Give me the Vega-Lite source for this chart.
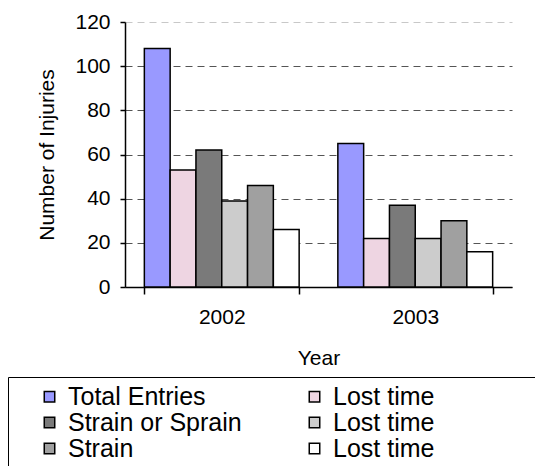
{
  "$schema": "https://vega.github.io/schema/vega-lite/v6.json",
  "width": 387,
  "height": 265,
  "autosize": {"type": "none"},
  "padding": {"left": 125, "top": 22, "right": 23, "bottom": 179},
  "background": "white",
  "config": {
    "view": {"stroke": null},
    "font": "Liberation Sans",
    "axis": {
      "labelFont": "Liberation Sans",
      "titleFont": "Liberation Sans",
      "labelColor": "black",
      "titleColor": "black",
      "titleFontWeight": "normal",
      "labelFontSize": 21,
      "titleFontSize": 21,
      "domainColor": "black",
      "tickColor": "black",
      "domainWidth": 1.5,
      "tickWidth": 1.5
    },
    "legend": {
      "labelFont": "Liberation Sans"
    }
  },
  "data": {
    "values": [
      {"year": "2002", "series": "Total Entries", "value": 108},
      {"year": "2002", "series": "Lost time 1", "value": 53},
      {"year": "2002", "series": "Strain or Sprain", "value": 62},
      {"year": "2002", "series": "Lost time 2", "value": 39},
      {"year": "2002", "series": "Strain", "value": 46},
      {"year": "2002", "series": "Lost time 3", "value": 26},
      {"year": "2003", "series": "Total Entries", "value": 65},
      {"year": "2003", "series": "Lost time 1", "value": 22},
      {"year": "2003", "series": "Strain or Sprain", "value": 37},
      {"year": "2003", "series": "Lost time 2", "value": 22},
      {"year": "2003", "series": "Strain", "value": 30},
      {"year": "2003", "series": "Lost time 3", "value": 16}
    ]
  },
  "mark": {"type": "bar", "stroke": "black", "strokeWidth": 1.5},
  "encoding": {
    "x": {
      "field": "year",
      "type": "nominal",
      "scale": {"paddingInner": 0.2, "paddingOuter": 0.1},
      "axis": {
        "title": "Year",
        "labelAngle": 0,
        "tickBand": "extent",
        "tickSize": 7,
        "labelPadding": 12,
        "titlePadding": 20
      }
    },
    "xOffset": {
      "field": "series",
      "type": "nominal",
      "sort": ["Total Entries", "Lost time 1", "Strain or Sprain", "Lost time 2", "Strain", "Lost time 3"],
      "scale": {"paddingInner": 0, "paddingOuter": 0}
    },
    "y": {
      "field": "value",
      "type": "quantitative",
      "scale": {"domain": [0, 120]},
      "axis": {
        "title": "Number of Injuries",
        "values": [0, 20, 40, 60, 80, 100, 120],
        "tickSize": 5,
        "labelPadding": 10,
        "titlePadding": 17,
        "grid": true,
        "gridDash": [7, 5],
        "gridWidth": 1,
        "gridColor": {"condition": {"test": "datum.value == 120", "value": "#c8c8c8"}, "value": "#555555"}
      }
    },
    "color": {
      "field": "series",
      "type": "nominal",
      "scale": {
        "domain": ["Total Entries", "Lost time 1", "Strain or Sprain", "Lost time 2", "Strain", "Lost time 3"],
        "range": ["#9999FF", "#EED5E2", "#7A7A7A", "#CCCCCC", "#A0A0A0", "#FFFFFF"]
      },
      "legend": {
        "orient": "none",
        "legendX": -117,
        "legendY": 355,
        "columns": 2,
        "direction": "horizontal",
        "title": "\u00a0",
        "titleOrient": "right",
        "titleFontSize": 10,
        "titlePadding": 95,
        "strokeColor": "black",
        "fillColor": "white",
        "padding": 7,
        "symbolType": "square",
        "symbolSize": 110,
        "symbolOffset": 22,
        "symbolStrokeColor": "black",
        "symbolStrokeWidth": 1.5,
        "labelFontSize": 25,
        "labelColor": "black",
        "labelOffset": 6,
        "columnPadding": 38,
        "rowPadding": 0,
        "labelLimit": 400,
        "labelExpr": "indexof(datum.label, 'Lost time') == 0 ? 'Lost time' : datum.label"
      }
    }
  }
}
